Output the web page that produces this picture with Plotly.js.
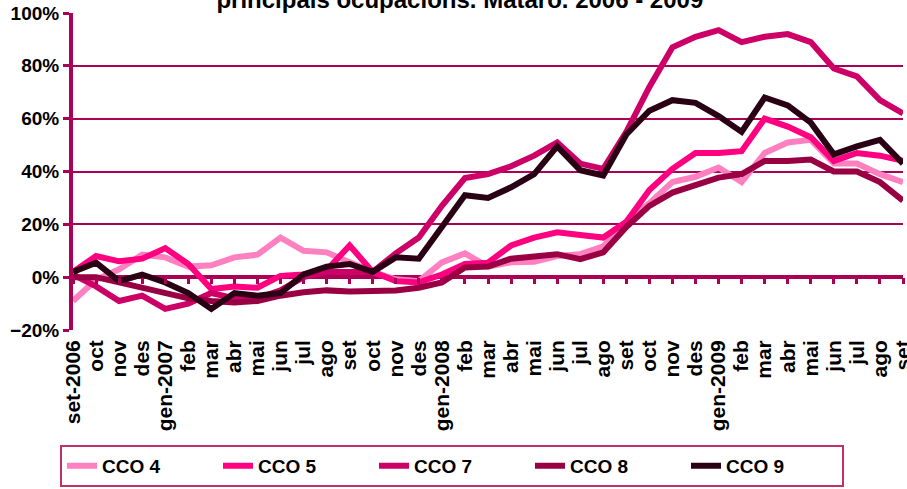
<!DOCTYPE html>
<html>
<head>
<meta charset="utf-8">
<script src="https://cdn.plot.ly/plotly-3.0.1.min.js"></script>
<style>html,body{margin:0;padding:0;background:#fff;}#chart{width:907px;height:489px;}</style>
</head>
<body>
<div id="chart"></div>
<script>
const monthLabels = ['set-2006','oct','nov','des','gen-2007','feb','mar','abr','mai','jun','jul','ago','set','oct','nov','des','gen-2008','feb','mar','abr','mai','jun','jul','ago','set','oct','nov','des','gen-2009','feb','mar','abr','mai','jun','jul','ago','set'];
const seriesNames = ['CCO 4','CCO 5','CCO 7','CCO 8','CCO 9'];
const cco4 = [-9,-1,3,8.5,7.5,4,4.5,7.5,8.5,15,10,9.4,5.6,2,-0.8,-1.5,5.6,9,4,5.6,5.8,8,8.7,11.7,21,28,36,38,41.5,36,47,51,52,43,43,39,36];
const cco5 = [2,8,6,7,11,5,-4.5,-3.5,-4,0.5,1,2.6,12,2,-1.5,-2,1,5,5.5,12,15,17,16,15,21,33,41,47,47,47.7,60,57,53,44,47,46,44];
const cco7 = [1,-3.5,-9,-7,-12,-10,-6,-8,-8,-5,0,2,2,2,9,15,27,37.5,39,42,46,51,43,41,55,72,87,91,93.5,89,91,92,89,79,76,67,62];
const cco8 = [0,0,-2,-4,-5.7,-8,-9,-9.6,-9,-7,-5.7,-5,-5.4,-5,-5,-4,-2,3.7,4,7,8,8.7,6.8,9.4,19,27,32,35,37.7,39,44,44,44.5,40,40,36,29];
const cco9 = [2,5.5,-1.5,1,-2,-6,-12,-6,-7,-6,1,4,5,2,7.5,7,19,31,30,34,39,49.5,40.5,38.5,54,63,67,66,61,55,68,65,58.5,46.5,49.5,52,43];
const seriesValues = [cco4, cco5, cco7, cco8, cco9];
const seriesColors = ['#FF80C0','#FF0080','#CC0066','#990044','#2A0014'];

const xIdx = monthLabels.map((_, i) => i);
const axisColor = '#AA0055';
const fontFam = 'Liberation Sans, Arial, sans-serif';

const traces = seriesNames.map((name, k) => ({
  type: 'scatter', mode: 'lines', name: name,
  x: xIdx, y: seriesValues[k],
  line: {color: seriesColors[k], width: 6},
  hoverinfo: 'skip'
}));
traces.push({
  type: 'scatter', mode: 'lines', x: xIdx, y: xIdx.map(() => null),
  xaxis: 'x2', yaxis: 'y', showlegend: false, hoverinfo: 'skip'
});

const layout = {
  width: 907, height: 489,
  margin: {l: 73, r: 4, t: 13, b: 158},
  paper_bgcolor: '#fff', plot_bgcolor: '#fff',
  font: {family: fontFam, color: '#000', weight: 'bold'},
  title: {
    text: 'principals ocupacions. Mataró. 2006 - 2009',
    font: {family: fontFam, size: 24, weight: 'bold', color: '#000'},
    x: 0.507, xanchor: 'center', y: 1, yref: 'container', yanchor: 'middle'
  },
  xaxis: {
    range: [0, 36], tickvals: xIdx, ticktext: monthLabels, tickangle: -90,
    showline: false, showgrid: false, zeroline: false, ticks: '',
    ticklabelstandoff: 5, ticklabeloverflow: 'allow',
    tickfont: {family: fontFam, size: 21, weight: 'bold', color: '#000'},
    automargin: false, fixedrange: true
  },
  xaxis2: {
    overlaying: 'x', anchor: 'free', position: 20/120, side: 'bottom',
    range: [0, 36], tickvals: xIdx, showticklabels: false,
    ticks: 'outside', ticklen: 6, tickwidth: 3, tickcolor: axisColor,
    showline: false, showgrid: false, zeroline: false, automargin: false
  },
  yaxis: {
    range: [-20, 100], dtick: 20, ticksuffix: '%',
    showgrid: true, gridcolor: axisColor, gridwidth: 2,
    zeroline: true, zerolinecolor: axisColor, zerolinewidth: 4,
    showline: true, linecolor: axisColor, linewidth: 4,
    ticks: 'outside', ticklen: 6, tickwidth: 3, tickcolor: axisColor,
    tickfont: {family: fontFam, size: 19, weight: 'bold', color: '#000'},
    automargin: false, fixedrange: true
  },
  showlegend: true,
  legend: {
    orientation: 'h', x: (60 - 73) / 830, xanchor: 'left', y: -0.49, yanchor: 'bottom',
    bgcolor: '#fff', bordercolor: '#C0306A', borderwidth: 2,
    entrywidth: 111, entrywidthmode: 'pixels',
    font: {family: fontFam, size: 19, weight: 'bold', color: '#000'}
  }
};

Plotly.newPlot('chart', traces, layout, {staticPlot: true, displayModeBar: false});
</script>
</body>
</html>
